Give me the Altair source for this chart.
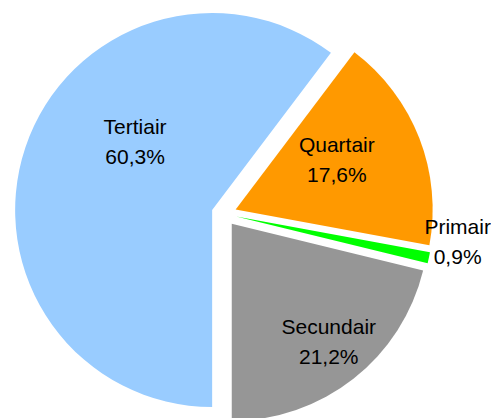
import altair as alt
import pandas as pd

# ---- data ----
categories = ["Tertiair", "Quartair", "Primair", "Secundair"]
shares = [60.3, 17.6, 0.9, 21.2]

# ---- style ----
colors = ["#99CCFF", "#FF9900", "#00FF00", "#969696"]
CX, CY = 216, 206        # pie centre (pixels inside the chart)
R = 197                  # pie radius
EXPLODE = 12.5           # explosion distance
LABEL_NUDGE = {"Tertiair": (35, -44), "Quartair": (-9, -21),
               "Primair": (-4, -37), "Secundair": (24, 11)}

df = pd.DataFrame({"cat": categories, "value": shares})

nudge_x = "{" + ",".join(f"'{k}':{v[0]}" for k, v in LABEL_NUDGE.items()) + "}"
nudge_y = "{" + ",".join(f"'{k}':{v[1]}" for k, v in LABEL_NUDGE.items()) + "}"

base = (
    alt.Chart(df)
    .transform_joinaggregate(total="sum(value)")
    .transform_window(cum="sum(value)")
    .transform_calculate(
        a0="PI + 2*PI*(datum.cum - datum.value)/datum.total",
        a1="PI + 2*PI*datum.cum/datum.total",
    )
    .transform_calculate(mid="(datum.a0 + datum.a1)/2")
    .transform_calculate(
        cx=f"{CX} + {EXPLODE}*sin(datum.mid)",
        cy=f"{CY} - {EXPLODE}*cos(datum.mid)",
        lr=f"datum.value/datum.total < 0.05 ? {R*1.17} : {R*0.6}",
        label="[datum.cat, replace(format(datum.value, '.1f'), '.', ',') + '%']",
    )
    .transform_calculate(
        lx=f"datum.cx + datum.lr*sin(datum.mid) + {nudge_x}[datum.cat]",
        ly=f"datum.cy - datum.lr*cos(datum.mid) + {nudge_y}[datum.cat]",
    )
)

arcs = base.mark_arc(outerRadius=R).encode(
    theta=alt.Theta("a0:Q", scale=None, stack=False),
    theta2="a1:Q",
    x=alt.X("cx:Q", scale=None),
    y=alt.Y("cy:Q", scale=None),
    color=alt.Color("cat:N", scale=alt.Scale(domain=categories, range=colors), legend=None),
)

labels = base.mark_text(
    font="Liberation Sans", fontSize=21, color="black",
    align="center", baseline="middle", lineHeight=30,
).encode(
    x=alt.X("lx:Q", scale=None),
    y=alt.Y("ly:Q", scale=None),
    text="label:N",
)

chart = (
    alt.layer(arcs, labels)
    .properties(width=483, height=410, padding=0, autosize="none")
    .configure_view(stroke=None)
)

chart.save("out.html", embed_options={"renderer": "svg", "actions": False})
